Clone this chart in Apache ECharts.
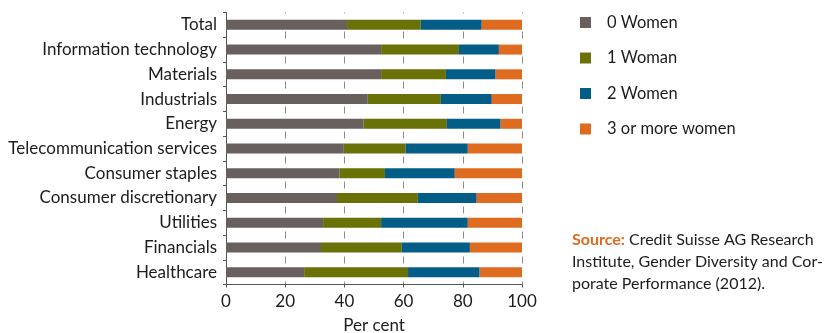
<!DOCTYPE html>
<html>
<head>
<meta charset="utf-8">
<script src="https://cdn.jsdelivr.net/npm/echarts@6/dist/echarts.min.js"></script>
<style>
  html, body { margin: 0; padding: 0; background: #fff; }
  #chart { width: 840px; height: 333px; }
</style>
</head>
<body>
<div id="chart"></div>
<script>
'use strict';

// categories, top to bottom
const categories = ['Total', 'Information technology', 'Materials', 'Industrials', 'Energy',
    'Telecommunication services', 'Consumer staples', 'Consumer discretionary',
    'Utilities', 'Financials', 'Healthcare'];
// shares of boards, per cent
const zeroWomen = [40.9, 52.4, 52.4, 47.9, 46.5, 39.8, 38.4, 37.5, 32.8, 32.1, 26.4];
const oneWoman = [24.9, 26.3, 21.9, 24.7, 28.1, 20.9, 15.3, 27.3, 19.6, 27.3, 35.1];
const twoWomen = [20.6, 13.5, 16.8, 17.2, 18.2, 21.0, 23.6, 19.9, 29.3, 23.0, 24.2];
const threePlus = [13.6, 7.8, 8.9, 10.2, 7.2, 18.3, 22.7, 15.3, 18.3, 17.6, 14.3];
const seriesNames = ['0 Women', '1 Woman', '2 Women', '3 or more women'];
const xTicks = [0, 20, 40, 60, 80, 100];

const FONT = 'Lato';
const TEXT = '#1e1b1c';

let chart = echarts.init(document.getElementById('chart'));

let makeSeries = function (name, data, colour) {
    return {
        name: name,
        type: 'bar',
        stack: 'all',
        barWidth: 10,
        itemStyle: { color: colour },
        data: data
    };
};

let option = {
    animation: false,
    textStyle: { fontFamily: FONT },
    grid: { left: 226, right: 318, top: 12.5, bottom: 48.5, containLabel: false, outerBoundsMode: 'none' },
    legend: {
        orient: 'vertical',
        left: 575,
        top: 9,
        icon: 'rect',
        itemWidth: 11,
        itemHeight: 11,
        itemGap: 18.5,
        textStyle: { fontFamily: FONT, fontSize: 16.5, color: TEXT, padding: [0, 0, 0, 11] },
        data: seriesNames
    },
    xAxis: {
        type: 'value',
        min: xTicks[0],
        max: xTicks[xTicks.length - 1],
        interval: 20,
        name: 'Per cent',
        nameLocation: 'middle',
        nameGap: 33,
        nameTextStyle: { fontFamily: FONT, fontSize: 17, color: TEXT },
        axisLine: { show: true, lineStyle: { color: '#555', width: 1 } },
        axisTick: { show: true, length: 3, lineStyle: { color: '#555' } },
        axisLabel: { fontFamily: FONT, fontSize: 17, color: TEXT, margin: 9 },
        splitLine: {
            show: true,
            lineStyle: { color: '#8a8a8a', width: 1, type: [7, 18], dashOffset: 6 }
        }
    },
    yAxis: {
        type: 'category',
        inverse: true,
        data: categories,
        axisLine: { show: true, lineStyle: { color: '#555', width: 1 } },
        axisTick: { show: true, length: 3, lineStyle: { color: '#555' } },
        axisLabel: { fontFamily: FONT, fontSize: 17, color: TEXT, margin: 9 }
    },
    series: [
        makeSeries(seriesNames[0], zeroWomen, '#69605e'),
        makeSeries(seriesNames[1], oneWoman, '#6a7106'),
        makeSeries(seriesNames[2], twoWomen, '#045d87'),
        makeSeries(seriesNames[3], threePlus, '#de6b1f')
    ],
    graphic: [
        {
            type: 'text',
            left: 572,
            top: 229,
            style: {
                text: '{s|Source:} Credit Suisse AG Research\nInstitute, Gender Diversity and Cor-\nporate Performance (2012).',
                font: '16px ' + FONT,
                fill: TEXT,
                lineHeight: 22,
                rich: {
                    s: { fontFamily: FONT, fontSize: 16, fontWeight: 'bold', fill: '#de6b1f', lineHeight: 22 }
                }
            }
        }
    ]
};

chart.setOption(option);
</script>
</body>
</html>
